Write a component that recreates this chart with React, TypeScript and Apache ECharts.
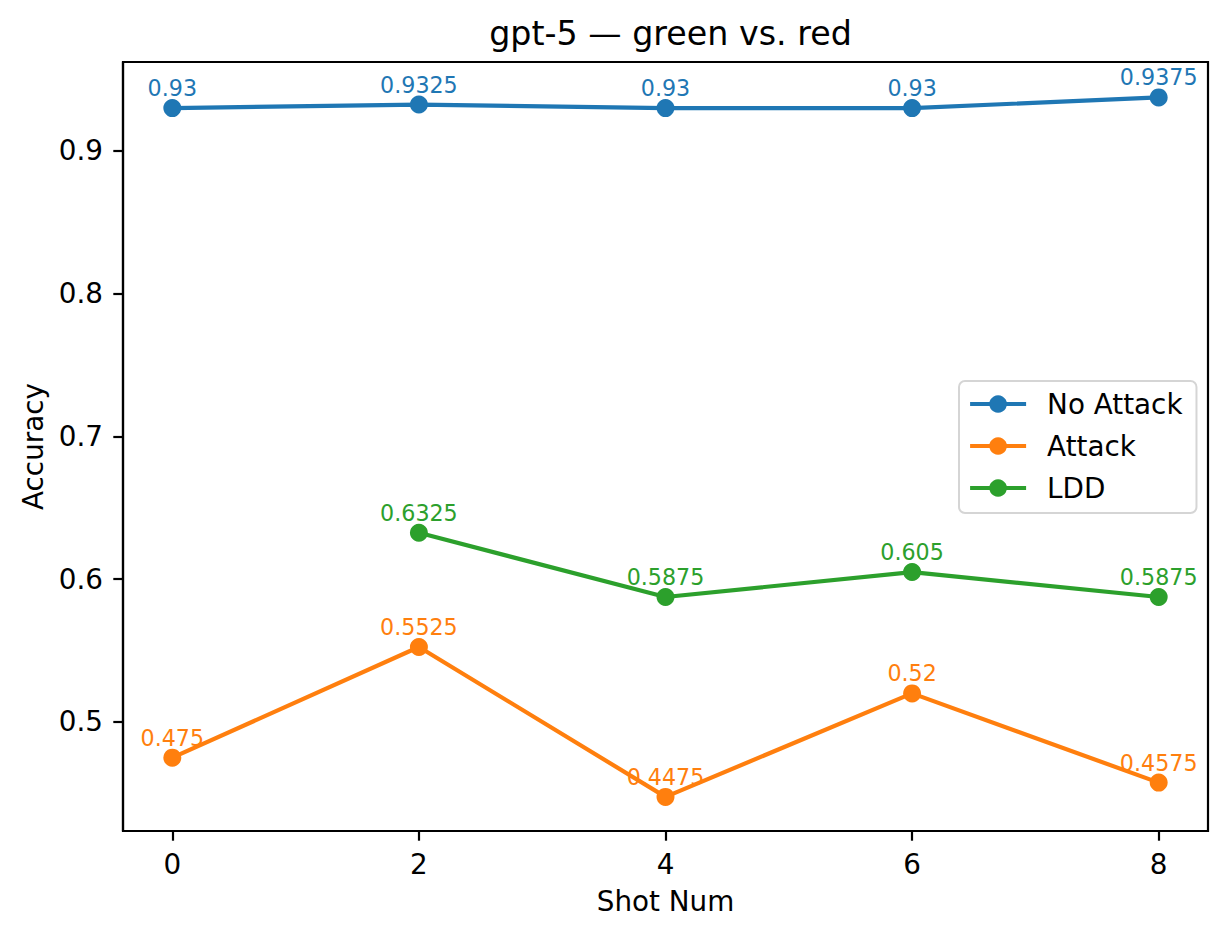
import React, { useEffect, useRef } from "react";
import * as echarts from "echarts";

const shots = [0, 2, 4, 6, 8];
const noAttack = [0.93, 0.9325, 0.93, 0.93, 0.9375];
const attack = [0.475, 0.5525, 0.4475, 0.52, 0.4575];
const lddShots = [2, 4, 6, 8];
const ldd = [0.6325, 0.5875, 0.605, 0.5875];
const xTicks = [0, 2, 4, 6, 8];
const yTicks = [0.5, 0.6, 0.7, 0.8, 0.9];

const FONT = "DejaVu Sans";
const COLORS = ["#1f77b4", "#ff7f0e", "#2ca02c"];

function makeSeries(name: string, xs: number[], ys: number[], color: string) {
  return {
    name,
    type: "line",
    data: xs.map((x, i) => [x, ys[i]]),
    color,
    symbol: "circle",
    symbolSize: 18,
    showSymbol: true,
    lineStyle: { width: 4.2, color },
    itemStyle: { color },
    label: {
      show: true,
      position: "top",
      distance: 0,
      fontFamily: FONT,
      fontSize: 22.2,
      color,
      formatter: (p: any) => String(p.value[1]),
    },
    emphasis: { disabled: true },
  };
}

export default function App() {
  const ref = useRef<HTMLDivElement>(null);
  useEffect(() => {
    if (!ref.current) return;
    const chart = echarts.init(ref.current, null, { renderer: "svg" });
    chart.setOption({
      animation: false,
      backgroundColor: "#ffffff",
      textStyle: { fontFamily: FONT },
      title: {
        text: "gpt-5 — green vs. red",
        left: 665.5,
        top: 12,
        textAlign: "center",
        textStyle: { fontFamily: FONT, fontSize: 33.3, fontWeight: "normal", color: "#000" },
      },
      grid: {
        left: 123,
        right: 19,
        top: 62,
        bottom: 108,
        show: true,
        borderColor: "#000",
        borderWidth: 2.2,
        backgroundColor: "transparent",
      },
      legend: {
        orient: "vertical",
        left: 959,
        top: 381,
        padding: [9, 14, 11, 9],
        itemWidth: 56,
        itemHeight: 22,
        itemGap: 14,
        backgroundColor: "#ffffff",
        borderColor: "#d5d5d5",
        borderWidth: 2,
        borderRadius: 6,
        lineStyle: { width: 4.2 },
        textStyle: { fontFamily: FONT, fontSize: 27.8, lineHeight: 28, color: "#000", padding: [0, 0, 0, 16] },
        data: ["No Attack", "Attack", "LDD"],
      },
      xAxis: {
        type: "value",
        min: -0.4,
        max: 8.4,
        name: "Shot Num",
        nameLocation: "middle",
        nameGap: 56,
        nameTextStyle: { fontFamily: FONT, fontSize: 27.8, color: "#000" },
        axisLine: { show: true, onZero: false, lineStyle: { color: "#000", width: 2.2 } },
        axisTick: { show: true, length: 9.7, lineStyle: { color: "#000", width: 2.2 }, customValues: xTicks },
        axisLabel: { fontFamily: FONT, fontSize: 27.8, color: "#000", margin: 19, customValues: xTicks },
        splitLine: { show: false },
      },
      yAxis: {
        type: "value",
        min: 0.4236,
        max: 0.9623,
        name: "Accuracy",
        nameLocation: "middle",
        nameGap: 75,
        nameTextStyle: { fontFamily: FONT, fontSize: 27.8, color: "#000" },
        axisLine: { show: true, onZero: false, lineStyle: { color: "#000", width: 2.2 } },
        axisTick: { show: true, length: 9.7, lineStyle: { color: "#000", width: 2.2 }, customValues: yTicks },
        axisLabel: {
          fontFamily: FONT,
          fontSize: 27.8,
          color: "#000",
          margin: 20,
          customValues: yTicks,
          formatter: (v: number) => v.toFixed(1),
        },
        splitLine: { show: false },
      },
      series: [
        makeSeries("No Attack", shots, noAttack, COLORS[0]),
        makeSeries("Attack", shots, attack, COLORS[1]),
        makeSeries("LDD", lddShots, ldd, COLORS[2]),
      ],
    });
    return () => chart.dispose();
  }, []);
  return (
    <div
      ref={ref}
      style={{ position: "fixed", left: 0, top: 0, width: 1227, height: 939, background: "#fff" }}
    />
  );
}
